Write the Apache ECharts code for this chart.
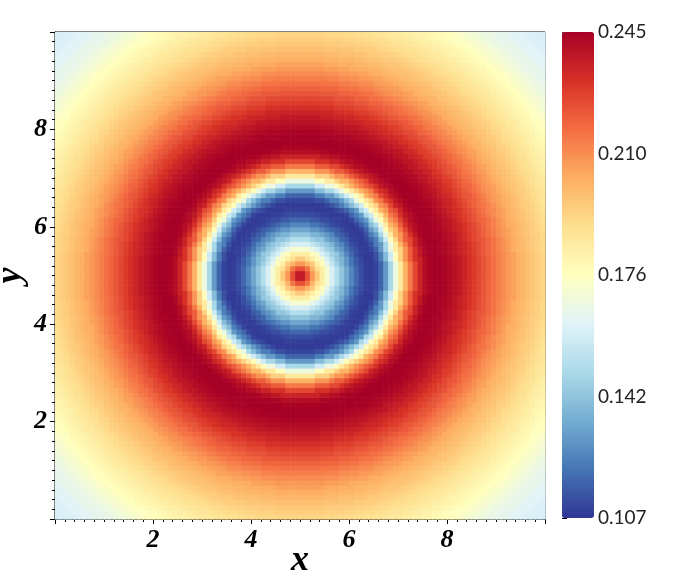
<!DOCTYPE html>
<html>
<head>
<meta charset="utf-8">
<style>
  html, body { margin: 0; padding: 0; background: #fff; }
  #chart { width: 680px; height: 580px; }
</style>
<script src="https://cdn.jsdelivr.net/npm/echarts@6/dist/echarts.min.js"></script>
</head>
<body>
<div id="chart"></div>
<script>
// Radial profile: value at distance r from the centre (5, 5), r in steps of 0.05
const profileStep = 0.05;
const profileValue = [
  0.238,0.237,0.232,0.224,0.216,0.208,0.202,0.196,0.190,0.184,   // r 0.00 - 0.45
  0.178,0.172,0.166,0.160,0.155,0.151,0.146,0.142,0.137,0.133,   // r 0.50 - 0.95
  0.129,0.125,0.121,0.118,0.115,0.112,0.110,0.109,0.108,0.108,   // r 1.00 - 1.45
  0.108,0.110,0.113,0.117,0.123,0.130,0.139,0.148,0.158,0.168,   // r 1.50 - 1.95
  0.177,0.186,0.194,0.202,0.209,0.215,0.221,0.226,0.231,0.235,   // r 2.00 - 2.45
  0.238,0.241,0.243,0.244,0.245,0.245,0.245,0.245,0.244,0.244,   // r 2.50 - 2.95
  0.243,0.242,0.241,0.240,0.239,0.238,0.236,0.235,0.234,0.232,   // r 3.00 - 3.45
  0.231,0.229,0.228,0.226,0.225,0.223,0.222,0.220,0.219,0.217,   // r 3.50 - 3.95
  0.216,0.214,0.213,0.211,0.210,0.208,0.207,0.206,0.204,0.203,   // r 4.00 - 4.45
  0.202,0.201,0.200,0.199,0.198,0.197,0.196,0.195,0.194,0.193,   // r 4.50 - 4.95
  0.192,0.191,0.190,0.189,0.188,0.187,0.186,0.185,0.184,0.183,   // r 5.00 - 5.45
  0.182,0.181,0.180,0.179,0.178,0.177,0.176,0.175,0.174,0.173,   // r 5.50 - 5.95
  0.172,0.171,0.170,0.169,0.168,0.167,0.166,0.166,0.165,0.165,   // r 6.00 - 6.45
  0.164,0.164,0.163,0.163,0.162,0.162,0.161,0.161,0.161,0.160,   // r 6.50 - 6.95
  0.160,0.160,0.160                                              // r 7.00 - 7.10
];
const centre = [5, 5];
const cellCount = 100;       // cells per axis
const cellSize = 0.1;        // cell width in data units
const xTicks = [2, 4, 6, 8];
const yTicks = [2, 4, 6, 8];
const colorbarTicks = [0.107, 0.1415, 0.176, 0.2105, 0.245];
const colorbarLabels = ['0.107', '0.142', '0.176', '0.210', '0.245'];
const valueMin = 0.107, valueMax = 0.245;
const colormap = ['#313695','#4575b4','#74add1','#abd9e9','#e0f3f8','#ffffbf',
                  '#fee090','#fdae61','#f46d43','#d73027','#a50026'];

// Build the cell table from the profile (nearest tabulated radius)
const cells = [];
for (let i = 0; i < cellCount; i++) {
  for (let j = 0; j < cellCount; j++) {
    const x = (i + 0.5) * cellSize;
    const y = (j + 0.5) * cellSize;
    const r = Math.hypot(x - centre[0], y - centre[1]);
    let k = Math.round(r / profileStep);
    if (k > profileValue.length - 1) k = profileValue.length - 1;
    cells.push([x, y, profileValue[k]]);
  }
}

const serif = '"Liberation Serif", "DejaVu Serif", serif';
const chart = echarts.init(document.getElementById('chart'), null, { renderer: 'canvas' });
chart.setOption({
  animation: false,
  backgroundColor: '#fff',
  grid: [
    { left: 55, top: 32, width: 490, height: 487, show: true, borderColor: '#000', borderWidth: 1,
      backgroundColor: 'transparent', containLabel: false, outerBoundsMode: 'none' },
    { left: 562, top: 32, width: 32, height: 486, show: false, containLabel: false, outerBoundsMode: 'none' }
  ],
  xAxis: [
    {
      type: 'value', gridIndex: 0, min: 0, max: 10, interval: 2,
      name: 'x', nameLocation: 'middle', nameGap: 24, nameMoveOverlap: false,
      nameTextStyle: { fontFamily: serif, fontStyle: 'italic', fontWeight: 'bold', fontSize: 36, color: '#000' },
      axisLine: { show: true, lineStyle: { color: '#000', width: 1 } },
      axisTick: { show: true, inside: false, length: 5, lineStyle: { color: '#000' } },
      minorTick: { show: true, splitNumber: 10, length: 3, lineStyle: { color: '#000' } },
      splitLine: { show: false },
      axisLabel: {
        margin: 8, fontFamily: serif, fontStyle: 'italic', fontWeight: 'bold', fontSize: 26, color: '#000',
        formatter: v => (xTicks.indexOf(v) >= 0 ? String(v) : '')
      }
    },
    { type: 'value', gridIndex: 1, min: 0, max: 1, show: false }
  ],
  yAxis: [
    {
      type: 'value', gridIndex: 0, min: 0, max: 10, interval: 2,
      name: 'y', nameLocation: 'middle', nameGap: 26, nameRotate: 90, nameMoveOverlap: false,
      nameTextStyle: { fontFamily: serif, fontStyle: 'italic', fontWeight: 'bold', fontSize: 36, color: '#000' },
      axisLine: { show: true, lineStyle: { color: '#000', width: 1 } },
      axisTick: { show: true, inside: false, length: 5, lineStyle: { color: '#000' } },
      minorTick: { show: true, splitNumber: 10, length: 3, lineStyle: { color: '#000' } },
      splitLine: { show: false },
      axisLabel: {
        margin: 8, fontFamily: serif, fontStyle: 'italic', fontWeight: 'bold', fontSize: 26, color: '#000',
        formatter: v => (yTicks.indexOf(v) >= 0 ? String(v) : '')
      }
    },
    {
      type: 'value', gridIndex: 1, min: valueMin, max: valueMax, position: 'right',
      axisLine: { show: false },
      splitLine: { show: false },
      axisTick: { show: true, length: 5, customValues: colorbarTicks, lineStyle: { color: '#000' } },
      axisLabel: {
        margin: 4, fontFamily: 'Lato, "Noto Sans", sans-serif', fontSize: 19, color: '#222',
        customValues: colorbarTicks,
        formatter: v => colorbarLabels[colorbarTicks.indexOf(v)] || ''
      }
    }
  ],
  visualMap: {
    type: 'continuous', min: valueMin, max: valueMax, dimension: 2, seriesIndex: 0,
    orient: 'vertical', left: 562, top: 32, itemWidth: 32, itemHeight: 486,
    padding: 0, calculable: false, realtime: false, text: null, showLabel: false,
    hoverLink: false,
    inRange: { color: colormap }
  },
  series: [
    {
      type: 'custom', xAxisIndex: 0, yAxisIndex: 0, data: cells,
      encode: { x: 0, y: 1 }, progressive: 0, silent: true,
      renderItem: function (params, api) {
        const x = api.value(0), y = api.value(1), h = cellSize / 2;
        const p0 = api.coord([x - h, y + h]);
        const p1 = api.coord([x + h, y - h]);
        return {
          type: 'rect',
          shape: { x: p0[0], y: p0[1], width: p1[0] - p0[0] + 0.6, height: p1[1] - p0[1] + 0.6 },
          style: { fill: api.visual('color') }
        };
      }
    },
    { type: 'scatter', xAxisIndex: 1, yAxisIndex: 1, data: [], silent: true }
  ]
});
</script>
</body>
</html>
